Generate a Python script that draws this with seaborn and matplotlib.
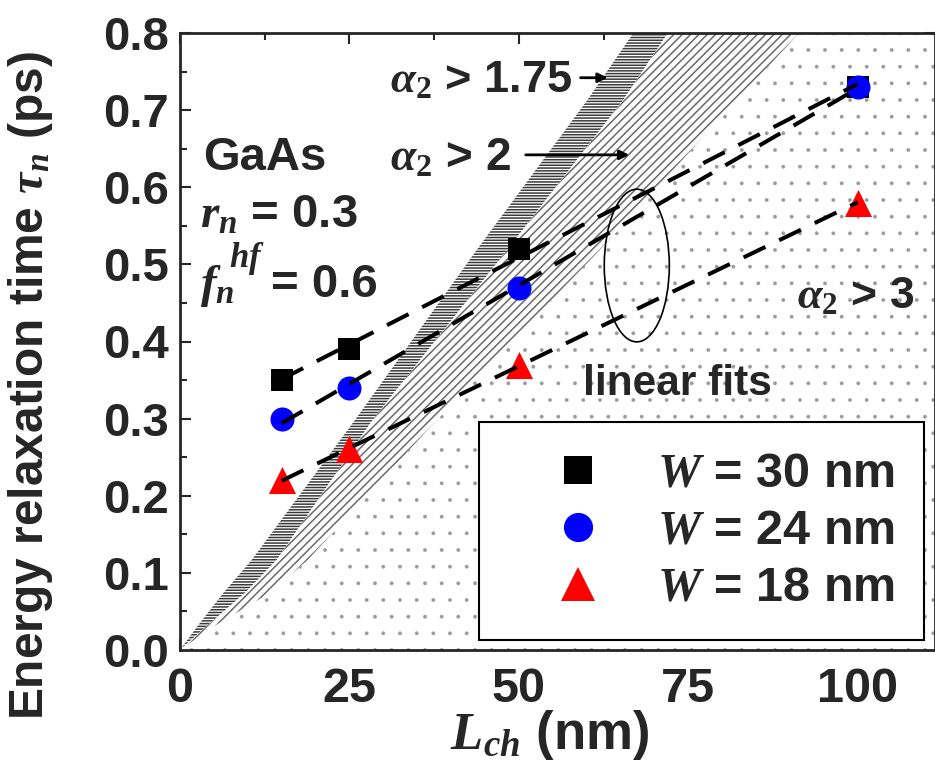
import numpy as np
import matplotlib
matplotlib.use("Agg")
import matplotlib.pyplot as plt
import seaborn as sns
from matplotlib.patches import Ellipse
from matplotlib.lines import Line2D

# Channel lengths (nm) and extracted energy relaxation times (ps)
L_ch = [15, 25, 50, 100]
tau_w30 = [0.35, 0.39, 0.52, 0.73]
tau_w24 = [0.30, 0.34, 0.47, 0.73]
tau_w18 = [0.22, 0.26, 0.37, 0.58]
width_labels = ["30", "24", "18"]

# alpha_2 threshold boundaries: channel length at each tau level
tau_edge = [0.0, 0.03, 0.074, 0.117, 0.298, 0.519, 0.713, 0.8]
L_a175 = [0.0, 2.5, 6.4, 10.6, 25.8, 43.8, 60.1, 66.9]
L_a2 = [0.0, 3.8, 9.6, 14.3, 28.4, 48.3, 65.4, 72.0]
L_a3 = [0.0, 4.9, 13.3, 18.9, 37.9, 62.0, 82.2, 91.4]

x_ticks = [0, 25, 50, 75, 100]
y_ticks = [0.0, 0.1, 0.2, 0.3, 0.4, 0.5, 0.6, 0.7, 0.8]

sns.set_theme(style="ticks")
plt.rcParams.update({
    "font.family": ["Liberation Sans", "DejaVu Sans"],
    "font.weight": "bold",
    "mathtext.fontset": "custom",
    "mathtext.it": "Liberation Serif:italic:bold",
    "mathtext.rm": "Liberation Serif",
    "mathtext.sf": "Liberation Serif:italic",
    "mathtext.bf": "Liberation Sans:bold",
    "hatch.linewidth": 1.0,
    "axes.linewidth": 2.0,
})

W, H = 935, 779
fig = plt.figure(figsize=(W / 100, H / 100), dpi=100)
ax = fig.add_axes([180 / W, 129 / H, 755 / W, 617 / H])
x_max = 111.4
ax.set_xlim(0, x_max)
ax.set_ylim(0, 0.8)


def hatch_width(patch, lw):
    if hasattr(patch, "set_hatch_linewidth"):
        patch.set_hatch_linewidth(lw)


# shaded alpha_2 regions
dark = ax.fill(np.r_[L_a175, L_a2[::-1]], np.r_[tau_edge, tau_edge[::-1]],
               facecolor="white", edgecolor="#3a3a3a", hatch="------",
               linewidth=0, zorder=1)[0]
hatch_width(dark, 1.1)
light = ax.fill(np.r_[L_a2, L_a3[::-1]], np.r_[tau_edge, tau_edge[::-1]],
                facecolor="white", edgecolor="#6a6a6a", hatch="////",
                linewidth=0, zorder=1)[0]
hatch_width(light, 1.1)
dots = ax.fill(np.r_[L_a3, [x_max + 5, x_max + 5]], np.r_[tau_edge, [0.85, 0.0]],
               facecolor="white", edgecolor="#9a9a9a", hatch=".",
               linewidth=0, zorder=1)[0]
hatch_width(dots, 0.3)

# measured points
series = [(tau_w30, "s", "black", 250), (tau_w24, "o", "#0000ff", 300),
          (tau_w18, "^", "#ff0000", 380)]
for tau, mk, col, size in series:
    sns.scatterplot(x=L_ch, y=tau, marker=mk, color=col, s=size,
                    linewidth=0, ax=ax, zorder=3, legend=False)

# linear fits
for tau, _, _, _ in series:
    sns.regplot(x=np.array(L_ch, float), y=np.array(tau), ci=None, scatter=False,
                truncate=True, ax=ax,
                line_kws=dict(color="black", lw=2.9, ls=(0, (6, 3.8)), zorder=4))

ax.add_patch(Ellipse((67.4, 0.4985), 9.6, 0.198, fill=False,
                     edgecolor="black", lw=1.2, zorder=5))

# annotations
ax.text(3.4, 0.622, "GaAs", fontsize=34, fontweight="bold", zorder=6)
ax.text(3.0, 0.547, r"$\mathit{r}_{\mathit{n}}$ = 0.3", fontsize=34,
        fontweight="bold", zorder=6)
ax.text(3.0, 0.458, r"$\mathit{f}_{\mathit{n}}$", fontsize=34,
        fontweight="bold", zorder=6)
ax.text(7.2, 0.497, r"$\mathit{hf}$", fontsize=25, fontweight="bold", zorder=6)
ax.text(13.4, 0.458, "= 0.6", fontsize=34, fontweight="bold", zorder=6)
ax.text(31.0, 0.7235, r"$\mathsf{\alpha}_{\mathrm{2}}$ > 1.75", fontsize=32.5,
        fontweight="bold", zorder=6)
ax.text(31.0, 0.622, r"$\mathsf{\alpha}_{\mathrm{2}}$ > 2", fontsize=33,
        fontweight="bold", zorder=6)
ax.text(91.0, 0.443, r"$\mathsf{\alpha}_{\mathrm{2}}$ > 3", fontsize=32,
        fontweight="bold", zorder=6)
ax.text(59.5, 0.33, "linear fits", fontsize=30.5, fontweight="bold", zorder=6)
ax.annotate("", xy=(63.5, 0.742), xytext=(58.7, 0.742),
            arrowprops=dict(arrowstyle="-|>", color="black", lw=2,
                            mutation_scale=14), zorder=6)
ax.annotate("", xy=(66.7, 0.642), xytext=(50.6, 0.642),
            arrowprops=dict(arrowstyle="-|>", color="black", lw=2,
                            mutation_scale=14), zorder=6)

# legend
handles = [Line2D([], [], ls="none", marker=mk, color=col, markeredgewidth=0,
                  markersize=ms)
           for (_, mk, col, _), ms in zip(series, [19.5, 21, 25])]
labels = [r"$\mathit{W}$ = %s nm" % w for w in width_labels]
leg = ax.legend(handles, labels, loc="lower right",
                bbox_to_anchor=(744 / 755, 10 / 617), borderaxespad=0,
                prop=dict(family="Liberation Sans", weight="bold", size=35),
                frameon=True, fancybox=False, framealpha=1, edgecolor="black",
                borderpad=0.6, handlelength=2.9, handletextpad=0.16,
                labelspacing=0.25)
leg.get_frame().set_linewidth(1.5)
leg.set_zorder(7)

# axes styling
ax.set_xticks(x_ticks)
ax.set_xticks(np.arange(12.5, x_max, 25), minor=True)
ax.set_yticks(y_ticks)
ax.set_yticks(np.arange(0.05, 0.8, 0.1), minor=True)
ax.set_yticklabels([f"{v:.1f}" for v in y_ticks])
ax.tick_params(which="both", direction="in", top=True, right=True, width=1.5)
ax.tick_params(which="major", length=8)
ax.tick_params(which="minor", length=5)
ax.tick_params(axis="y", labelsize=34, pad=8)
ax.tick_params(axis="x", labelsize=35, pad=12)
for lab in ax.get_xticklabels() + ax.get_yticklabels():
    lab.set_fontweight("bold")

ax.set_xlabel(r"$\mathsf{L}_{\mathsf{ch}}$ (nm)", fontsize=38, fontweight="bold")
ax.xaxis.set_label_coords(0.49, -0.094)
ax.set_ylabel(r"Energy relaxation time $\mathsf{\tau}_{\mathsf{n}}$ (ps)",
              fontsize=34.5, fontweight="bold")
ax.yaxis.set_label_coords(-0.166, 0.428)

fig.savefig("out.png", dpi=100)
